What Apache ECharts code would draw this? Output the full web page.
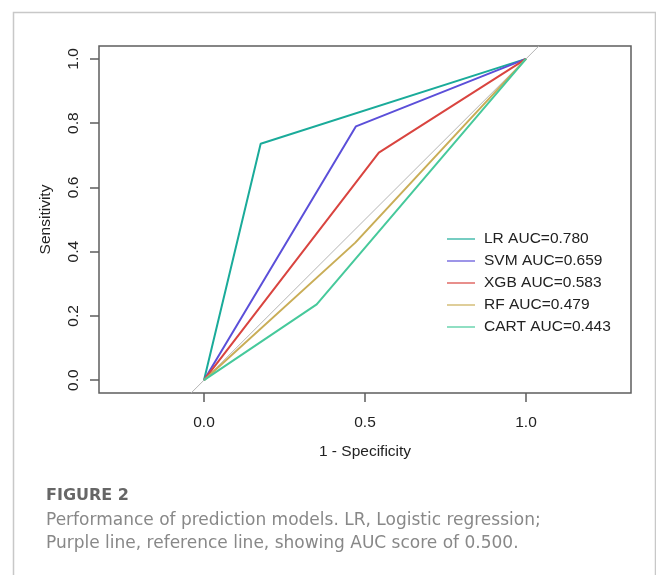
<!DOCTYPE html>
<html>
<head>
<meta charset="utf-8">
<script src="https://cdn.jsdelivr.net/npm/echarts@6/dist/echarts.min.js"></script>
<style>
  html, body { margin: 0; padding: 0; background: #fff; }
  #chart { width: 656px; height: 575px; }
</style>
</head>
<body>
<div id="chart"></div>
<script>
// ROC curves
const models = ['LR', 'SVM', 'XGB', 'RF', 'CART'];
const aucs = ['0.780', '0.659', '0.583', '0.479', '0.443'];
const colors = ['#1aab9a', '#5b4fd9', '#d9443f', '#c9ad56', '#46c99b'];
const fprLR = [0, 0.176, 1];
const tprLR = [0, 0.736, 1];
const fprSVM = [0, 0.472, 1];
const tprSVM = [0, 0.790, 1];
const fprXGB = [0, 0.543, 1];
const tprXGB = [0, 0.708, 1];
const fprRF = [0, 0.470, 1];
const tprRF = [0, 0.428, 1];
const fprCART = [0, 0.350, 1];
const tprCART = [0, 0.236, 1];
const refLine = [[-0.04, -0.04], [1.04, 1.04]]; // abline(0, 1)
const xTicks = [0, 0.5, 1];
const yTicks = [0, 0.2, 0.4, 0.6, 0.8, 1];

const fprs = [fprLR, fprSVM, fprXGB, fprRF, fprCART];
const tprs = [tprLR, tprSVM, tprXGB, tprRF, tprCART];

const font = '"Liberation Sans", Arial, sans-serif';
const capFont = '"DejaVu Sans", sans-serif';
const chart = echarts.init(document.getElementById('chart'));

const curves = models.map((m, i) => ({
  name: m + ' AUC=' + aucs[i],
  type: 'line',
  showSymbol: false,
  symbol: 'none',
  z: 3,
  lineStyle: { color: colors[i], width: 2 },
  itemStyle: { color: colors[i] },
  data: fprs[i].map((x, k) => [x, tprs[i][k]])
}));

chart.setOption({
  backgroundColor: '#fff',
  animation: false,
  grid: {
    left: 99, top: 46, width: 532, height: 347,
    show: true, borderColor: '#5e5e5e', borderWidth: 1.5
  },
  xAxis: {
    type: 'value', min: -0.326, max: 1.326,
    name: '1 - Specificity', nameLocation: 'middle', nameGap: 51,
    nameTextStyle: { fontFamily: font, fontSize: 15.5, color: '#222' },
    axisLine: { show: false, onZero: false },
    splitLine: { show: false },
    axisTick: { show: true, length: 9, customValues: xTicks, lineStyle: { color: '#5e5e5e', width: 1.5 } },
    axisLabel: {
      customValues: xTicks, margin: 22,
      fontFamily: font, fontSize: 15.5, color: '#222',
      formatter: v => v.toFixed(1)
    }
  },
  yAxis: {
    type: 'value', min: -0.04, max: 1.04,
    name: 'Sensitivity', nameLocation: 'middle', nameGap: 45, nameRotate: 90,
    nameTextStyle: { fontFamily: font, fontSize: 15.5, color: '#222' },
    axisLine: { show: false, onZero: false },
    splitLine: { show: false },
    axisTick: { show: true, length: 9, customValues: yTicks, lineStyle: { color: '#5e5e5e', width: 1.5 } },
    axisLabel: {
      customValues: yTicks, margin: 17, rotate: 90,
      fontFamily: font, fontSize: 15.5, color: '#222',
      formatter: v => v.toFixed(1)
    }
  },
  legend: {
    orient: 'vertical', left: 442, top: 226,
    icon: 'rect', itemWidth: 28, itemHeight: 2, itemGap: 6,
    itemStyle: { opacity: 0.6 },
    textStyle: { fontFamily: font, fontSize: 15.5, color: '#222', padding: [0, 0, 0, 4] },
    data: curves.map(c => c.name)
  },
  graphic: [
    {
      type: 'rect', silent: true,
      shape: { x: 13.5, y: 12.5, width: 642, height: 600 },
      style: { fill: 'none', stroke: '#c8c8c8', lineWidth: 1.5 }
    },
    {
      type: 'text', left: 46, top: 488,
      style: { text: 'FIGURE 2', font: 'bold 16px ' + capFont, fill: '#666' }
    },
    {
      type: 'text', left: 46, top: 512,
      style: { text: 'Performance of prediction models. LR, Logistic regression;', font: '17px ' + capFont, fill: '#888' }
    },
    {
      type: 'text', left: 46, top: 535,
      style: { text: 'Purple line, reference line, showing AUC score of 0.500.', font: '17px ' + capFont, fill: '#888' }
    }
  ],
  series: curves.concat([{
    name: 'reference',
    type: 'line',
    showSymbol: false,
    symbol: 'none',
    z: 2,
    lineStyle: { color: '#b4b4b4', width: 1 },
    data: refLine
  }])
});
</script>
</body>
</html>
